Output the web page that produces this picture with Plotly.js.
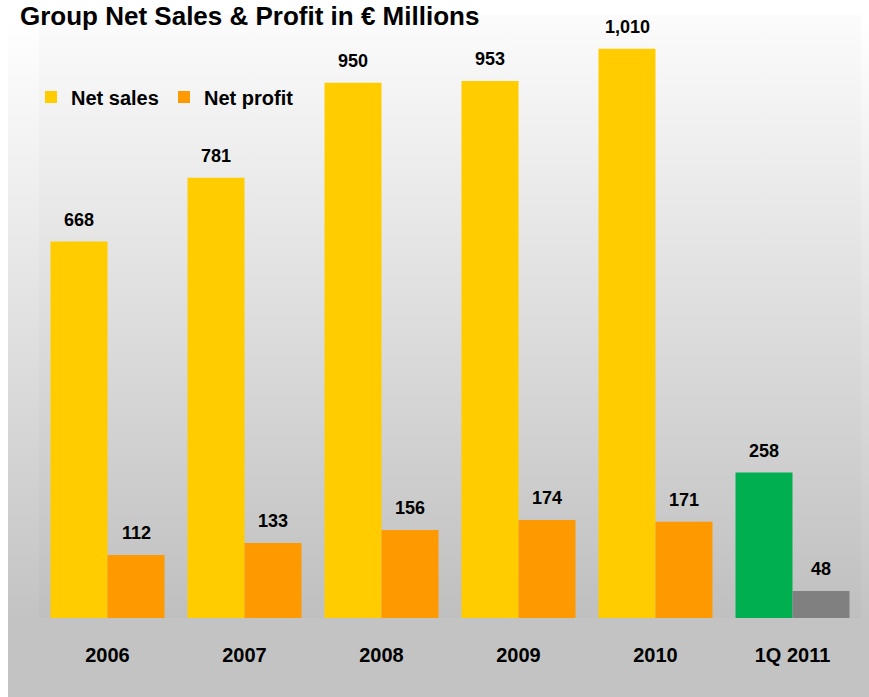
<!DOCTYPE html>
<html><head><meta charset="utf-8">
<script src="https://cdn.plot.ly/plotly-3.0.1.min.js"></script>
<style>
body{margin:0;background:#fff}
#chart{width:869px;height:697px;background:linear-gradient(to right,#fff 8px,rgba(255,255,255,0) 8px),linear-gradient(to bottom,#ffffff 20px,#c3c3c3 620px);}
</style>
</head><body><div id="chart"></div>
<script>
const categories = ['2006','2007','2008','2009','2010','1Q 2011'];
const netSales = [668, 781, 950, 953, 1010, 258];
const netProfit = [112, 133, 156, 174, 171, 48];
const salesColors = ['#ffcc00','#ffcc00','#ffcc00','#ffcc00','#ffcc00','#00b050'];
const profitColors = ['#ff9900','#ff9900','#ff9900','#ff9900','#ff9900','#808080'];
const titleText = 'Group Net Sales & Profit in € Millions';

const FONT = '"Liberation Sans", Arial, sans-serif';
const fmt = v => v.toLocaleString('en-US');

const traces = [
  {type:'bar', name:'Net sales', x:categories, y:netSales, marker:{color:salesColors}, hoverinfo:'none'},
  {type:'bar', name:'Net profit', x:categories, y:netProfit, marker:{color:profitColors}, hoverinfo:'none'}
];

const annotations = [];
categories.forEach((c,i)=>{
  // category axis: annotations use the category's serial index
  annotations.push({x:i, y:netSales[i], xref:'x', yref:'y', text:'<b>'+fmt(netSales[i])+'</b>', showarrow:false, xshift:-28.5, yshift:22, yanchor:'middle', font:{family:FONT, size:18, color:'#000'}});
  annotations.push({x:i, y:netProfit[i], xref:'x', yref:'y', text:'<b>'+fmt(netProfit[i])+'</b>', showarrow:false, xshift:28.5, yshift:22, yanchor:'middle', font:{family:FONT, size:18, color:'#000'}});
});
annotations.push({text:'<b>'+titleText+'</b>', xref:'paper', yref:'paper', x:(19-39)/822, y:(618-16)/603, xanchor:'left', yanchor:'middle', showarrow:false, borderpad:0, font:{family:FONT, size:26, color:'#000'}});

const layout = {
  width:869, height:697,
  margin:{l:39, r:8, t:15, b:79, pad:0},
  paper_bgcolor:'rgba(0,0,0,0)',
  plot_bgcolor:'rgba(0,0,0,0.015)',
  barmode:'group', bargap:0.168, bargroupgap:0,
  font:{family:FONT, color:'#000'},
  showlegend:true,
  legend:{orientation:'h', x:-8/822, xanchor:'left', y:(618-97)/603, yanchor:'middle', bgcolor:'rgba(0,0,0,0)', entrywidthmode:'pixels', entrywidth:88, font:{family:FONT, size:20, color:'#000', weight:'bold'}, traceorder:'normal'},
  xaxis:{type:'category', range:[-0.5,5.5], showgrid:false, zeroline:false, showline:false, ticks:'outside', ticklen:19, tickcolor:'rgba(0,0,0,0)', tickfont:{family:FONT, size:20, color:'#000', weight:'bold'}},
  yaxis:{range:[0,1070], visible:false, showgrid:false, zeroline:false},
  annotations:annotations
};

Plotly.newPlot('chart', traces, layout, {displayModeBar:false, staticPlot:true});
</script>
</body></html>
